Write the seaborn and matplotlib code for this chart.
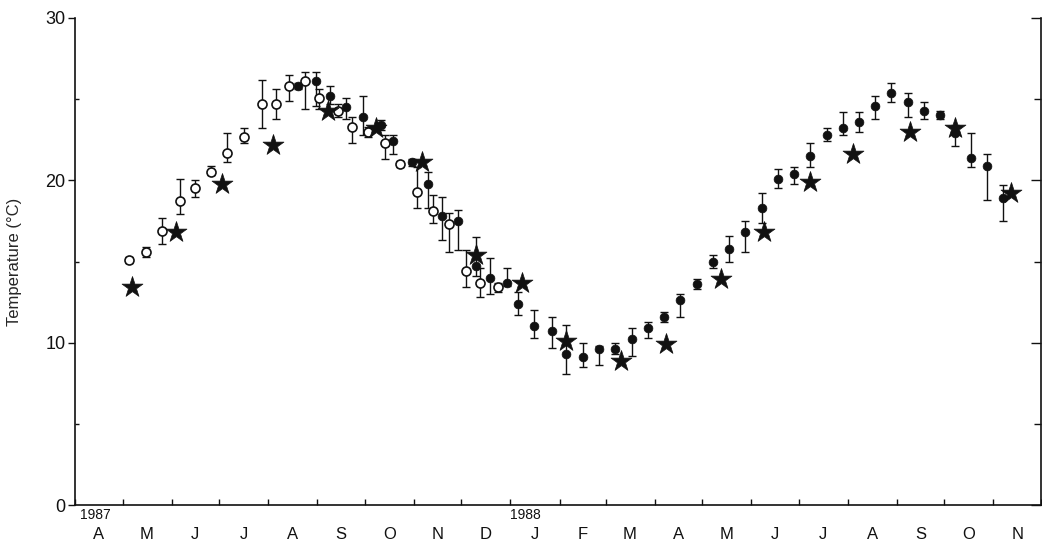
import pandas as pd
import matplotlib
matplotlib.use("Agg")
import matplotlib.pyplot as plt
import matplotlib.dates as mdates
from matplotlib.ticker import MultipleLocator, NullFormatter, FixedLocator, FixedFormatter
import seaborn as sns

# Open circles: 1987 station means (°C) with lower / upper error
open_dates = ["1987-05-05", "1987-05-16", "1987-05-26", "1987-06-06", "1987-06-16",
              "1987-06-26", "1987-07-06", "1987-07-17", "1987-07-28", "1987-08-06",
              "1987-08-14", "1987-08-24", "1987-09-02", "1987-09-14", "1987-09-23",
              "1987-10-03", "1987-10-14", "1987-10-23", "1987-11-03", "1987-11-13",
              "1987-11-23", "1987-12-04", "1987-12-13", "1987-12-24"]
open_temp = [15.1, 15.6, 16.9, 18.7, 19.5, 20.5, 21.7, 22.7, 24.7, 24.7,
             25.8, 26.1, 25.1, 24.3, 23.3, 23.0, 22.3, 21.0, 19.3, 18.1,
             17.3, 14.4, 13.7, 13.4]
open_err_lo = [0.2, 0.3, 0.8, 0.8, 0.5, 0.2, 0.6, 0.4, 1.5, 0.9,
               0.9, 1.7, 0.7, 0.4, 1.0, 0.3, 1.0, 0.2, 1.0, 0.7,
               1.7, 1.0, 0.9, 0.3]
open_err_hi = [0.2, 0.3, 0.8, 1.4, 0.5, 0.4, 1.2, 0.5, 1.5, 0.9,
               0.7, 0.6, 0.5, 0.4, 0.6, 0.3, 0.5, 0.2, 1.5, 1.0,
               0.7, 1.3, 0.9, 0.3]

# Filled circles: 1987-1988 station means (°C) with lower / upper error
filled_dates = ["1987-08-20", "1987-08-31", "1987-09-09", "1987-09-19", "1987-09-30",
                "1987-10-11", "1987-10-19", "1987-10-31", "1987-11-10", "1987-11-19",
                "1987-11-29", "1987-12-10", "1987-12-19", "1987-12-30", "1988-01-06",
                "1988-01-16", "1988-01-27", "1988-02-05", "1988-02-16", "1988-02-26",
                "1988-03-07", "1988-03-18", "1988-03-28", "1988-04-07", "1988-04-17",
                "1988-04-28", "1988-05-08", "1988-05-18", "1988-05-28", "1988-06-08",
                "1988-06-18", "1988-06-28", "1988-07-08", "1988-07-19", "1988-07-29",
                "1988-08-08", "1988-08-18", "1988-08-28", "1988-09-08", "1988-09-18",
                "1988-09-28", "1988-10-08", "1988-10-18", "1988-10-28", "1988-11-07"]
filled_temp = [25.8, 26.1, 25.2, 24.5, 23.9, 23.4, 22.4, 21.1, 19.8, 17.8,
               17.5, 14.7, 14.0, 13.7, 12.4, 11.0, 10.7, 9.3, 9.1, 9.6,
               9.6, 10.2, 10.9, 11.6, 12.6, 13.6, 15.0, 15.8, 16.8, 18.3,
               20.1, 20.4, 21.5, 22.8, 23.2, 23.6, 24.6, 25.4, 24.8, 24.3,
               24.0, 22.9, 21.4, 20.9, 18.9]
filled_err_lo = [0.2, 1.5, 0.5, 0.7, 1.1, 0.3, 0.8, 0.2, 1.5, 1.5,
                 1.8, 0.6, 1.0, 0.2, 0.7, 0.7, 1.0, 1.2, 0.6, 1.0,
                 0.3, 1.0, 0.6, 0.3, 1.0, 0.3, 0.4, 0.8, 1.2, 0.9,
                 0.6, 0.6, 0.7, 0.4, 0.4, 0.6, 0.8, 0.6, 0.9, 0.5,
                 0.2, 0.8, 0.6, 2.1, 1.4]
filled_err_hi = [0.2, 0.6, 0.6, 0.6, 1.3, 0.3, 0.4, 0.2, 0.7, 1.2,
                 0.7, 1.8, 1.2, 0.9, 0.7, 1.0, 0.9, 1.8, 0.9, 0.2,
                 0.4, 0.7, 0.4, 0.3, 0.4, 0.3, 0.4, 0.8, 0.7, 0.9,
                 0.6, 0.4, 0.8, 0.4, 1.0, 0.6, 0.6, 0.6, 0.6, 0.5,
                 0.3, 0.5, 1.5, 0.7, 0.8]

# Stars: single monthly readings (°C)
star_dates = ["1987-05-07", "1987-06-04", "1987-07-03", "1987-08-04", "1987-09-08",
              "1987-10-08", "1987-11-06", "1987-12-10", "1988-01-08", "1988-02-05",
              "1988-03-11", "1988-04-08", "1988-05-13", "1988-06-09", "1988-07-08",
              "1988-08-04", "1988-09-09", "1988-10-08", "1988-11-12"]
star_temp = [13.4, 16.8, 19.8, 22.2, 24.3, 23.2, 21.1, 15.4, 13.7, 10.1,
             8.9, 9.9, 13.9, 16.8, 19.9, 21.6, 23.0, 23.2, 19.2]

month_labels = ["A", "M", "J", "J", "A", "S", "O", "N", "D", "J",
                "F", "M", "A", "M", "J", "J", "A", "S", "O", "N"]
year_labels = ["1987", "1988"]
year_starts = ["1987-04-01", "1988-01-01"]

sns.set_style("ticks")
plt.rcParams["font.family"] = ["Liberation Sans", "DejaVu Sans"]

fig = plt.figure(figsize=(10.42, 5.41), dpi=100)
ax = fig.add_axes([75 / 1042, 1 - 505 / 541, 966 / 1042, 487 / 541])

ink = "#111111"

# error bars under the markers
for d, t, lo, hi in [(open_dates, open_temp, open_err_lo, open_err_hi),
                     (filled_dates, filled_temp, filled_err_lo, filled_err_hi)]:
    ax.errorbar(pd.to_datetime(d).to_numpy(), t, yerr=[lo, hi], fmt="none",
                ecolor=ink, elinewidth=1.0, capsize=2.6, capthick=1.0, zorder=2)

sns.scatterplot(x=pd.to_datetime(open_dates), y=open_temp, marker="o", s=42,
                color="white", edgecolor=ink, linewidth=1.2, ax=ax, zorder=3)
sns.scatterplot(x=pd.to_datetime(filled_dates), y=filled_temp, marker="o", s=40,
                color=ink, edgecolor=ink, linewidth=0.5, ax=ax, zorder=4)
sns.scatterplot(x=pd.to_datetime(star_dates), y=star_temp, marker="*", s=250,
                color=ink, edgecolor=ink, linewidth=0.5, ax=ax, zorder=5)

x0, x1 = pd.Timestamp("1987-04-01"), pd.Timestamp("1988-12-01")
ax.set_xlim(x0, x1)
ax.set_ylim(0, 30)
ax.set_xlabel("")
ax.set_ylabel("Temperature (°C)", fontsize=12, labelpad=0)
ax.yaxis.set_label_coords(-0.055, 0.5)

# month boundaries as ticks, month initials centred in each month
month_starts = pd.date_range("1987-04-01", "1988-12-01", freq="MS")
mids = [mdates.date2num(a) + (mdates.date2num(b) - mdates.date2num(a)) / 2
        for a, b in zip(month_starts[:-1], month_starts[1:])]
ax.xaxis.set_major_locator(FixedLocator(mdates.date2num(month_starts)))
ax.xaxis.set_major_formatter(NullFormatter())
ax.xaxis.set_minor_locator(FixedLocator(mids))
ax.xaxis.set_minor_formatter(FixedFormatter(month_labels))
ax.tick_params(axis="x", which="major", direction="in", length=4, width=1.0, color=ink)
ax.tick_params(axis="x", which="minor", length=0, pad=16, labelsize=12, labelcolor=ink)

ax.yaxis.set_major_locator(MultipleLocator(10))
ax.yaxis.set_minor_locator(MultipleLocator(5))
ax.tick_params(axis="y", which="major", direction="out", length=5, width=1.0,
               pad=2, labelsize=13, color=ink, labelcolor=ink)
ax.tick_params(axis="y", which="minor", direction="in", length=3, width=1.0, color=ink)

for lbl, start in zip(year_labels, year_starts):
    ax.text(pd.Timestamp(start) + pd.Timedelta(days=3 if lbl == "1987" else 0), -0.02,
            lbl, transform=ax.get_xaxis_transform(), ha="left", va="center",
            fontsize=10, color=ink)

# right-hand frame with inward ticks
ax2 = ax.twinx()
ax2.set_ylim(0, 30)
ax2.yaxis.set_major_locator(MultipleLocator(10))
ax2.yaxis.set_minor_locator(MultipleLocator(5))
ax2.tick_params(axis="y", which="major", direction="in", length=7, width=1.0,
                labelright=False, color=ink)
ax2.tick_params(axis="y", which="minor", direction="in", length=5, width=1.0, color=ink)
ax2.grid(False)

for name in ["top", "right"]:
    ax.spines[name].set_visible(False)
for name in ["top", "left", "bottom"]:
    ax2.spines[name].set_visible(False)
for sp in [ax.spines["left"], ax.spines["bottom"], ax2.spines["right"]]:
    sp.set_linewidth(1.2)
    sp.set_color(ink)

fig.savefig("out.png", dpi=100, facecolor="white")
